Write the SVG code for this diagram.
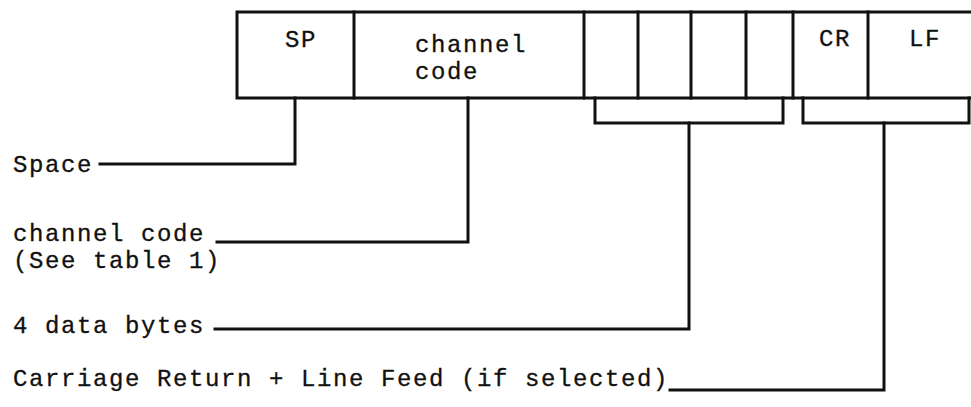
<svg xmlns="http://www.w3.org/2000/svg" width="971" height="407" viewBox="0 0 971 407">
<style>
text{font-family:"Liberation Mono","DejaVu Sans Mono",monospace;font-size:24px;letter-spacing:1.6px;fill:#111;stroke:#111;stroke-width:0.3px}
.ln{stroke:#111;stroke-width:3;fill:none;stroke-linecap:square;stroke-linejoin:miter}
</style>
<rect width="971" height="407" fill="#fff"/>
<g id="frame">
<path class="ln" d="M971 12 H237 V98 H971"/>
<path class="ln" d="M354 12 V98 M584 12 V98 M638 12 V98 M691 12 V98 M746 12 V98 M793 12 V98 M868 12 V98"/>
</g>
<g id="field-sp"><text x="285" y="47">SP</text></g>
<g id="field-channel"><text x="415" y="52">channel</text><text x="415" y="79">code</text></g>
<g id="field-cr"><text x="819" y="46">CR</text></g>
<g id="field-lf"><text x="909" y="46">LF</text></g>
<g id="bracket-data"><path class="ln" d="M595 98 V123 H783 V98"/></g>
<g id="bracket-crlf"><path class="ln" d="M803 98 V123 H969 V98"/></g>
<g id="label-space"><text x="13" y="172">Space</text></g>
<g id="label-channel"><text x="13" y="241">channel code</text><text x="13" y="268">(See table 1)</text></g>
<g id="label-data"><text x="13" y="333">4 data bytes</text></g>
<g id="label-crlf"><text x="13" y="386">Carriage Return + Line Feed (if selected)</text></g>
<g id="connectors">
<path class="ln" d="M100 164 H295 V98"/>
<path class="ln" d="M217 242 H468 V98"/>
<path class="ln" d="M215 329 H689 V123"/>
<path class="ln" d="M670 390 H884 V123"/>
</g>
</svg>
